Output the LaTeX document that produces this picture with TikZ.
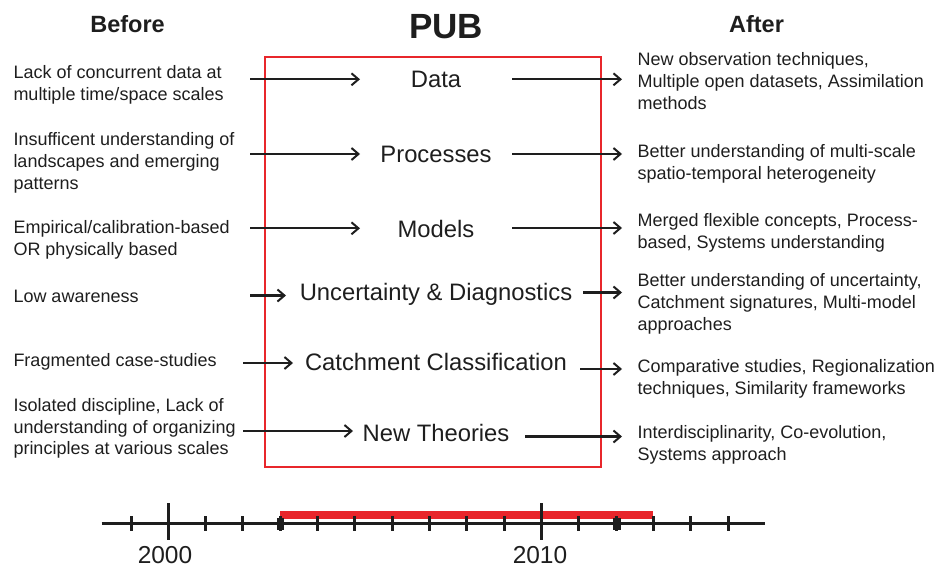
\documentclass[tikz,border=0pt]{standalone}
\usepackage{fontspec}
\setmainfont{Liberation Sans}
\usetikzlibrary{arrows.meta}
\definecolor{pubred}{HTML}{E8262B}
\definecolor{ink}{HTML}{1E1E1E}
\tikzset{
  side/.style={anchor=west, align=left, inner sep=0pt, text=ink, font=\fontsize{18}{21.7}\selectfont},
  mid/.style={anchor=center, inner sep=0pt, text=ink, font=\fontsize{23.8}{28}\selectfont},
  head/.style={anchor=base, inner sep=0pt, text=ink, font=\fontsize{23.5}{28}\selectfont\bfseries},
  year/.style={anchor=base, inner sep=0pt, text=ink, font=\fontsize{24.5}{29}\selectfont},
  flow/.style={draw=ink, line width=2.2pt, -{Straight Barb[length=7pt,width=12pt,line width=2pt]}},
  axis/.style={draw=ink, line width=3pt},
  minortick/.style={draw=ink, line width=3pt},
  majortick/.style={draw=ink, line width=3.4pt},
}
\begin{document}
\begin{tikzpicture}[x=1pt,y=-1pt]
\useasboundingbox (0,0) rectangle (942,568);
% headers
\node[head] (before) at (127.5,32) {Before};
\node[head, font=\fontsize{35}{40}\selectfont\bfseries] (pub) at (446,38) {PUB};
\node[head] (after) at (756.5,32) {After};
% PUB box
\draw[pubred, line width=2.3pt] (265,57) rectangle (601,467);
% left texts
\node[side] (b1) at (13.3,85) {Lack of concurrent data at\\multiple time/space scales};
\node[side] (b2) at (13.3,163) {Insufficent understanding of\\landscapes and emerging\\patterns};
\node[side] (b3) at (13.3,240) {Empirical/calibration-based\\OR physically based};
\node[side] (b4) at (13.3,296) {Low awareness};
\node[side] (b5) at (13.3,362) {Fragmented case-studies};
\node[side] (b6) at (13.3,428.5) {Isolated discipline, Lack of\\understanding of organizing\\principles at various scales};
% middle texts
\node[mid] (m1) at (436,79) {Data};
\node[mid] (m2) at (436,154) {Processes};
\node[mid] (m3) at (436,229) {Models};
\node[mid] (m4) at (436,294) {Uncertainty \& Diagnostics};
\node[mid] (m5) at (436,362) {Catchment Classification};
\node[mid] (m6) at (436,433) {New Theories};
% right texts
\node[side] (a1) at (637.5,81) {New observation techniques,\\Multiple open datasets, Assimilation\\methods};
\node[side] (a2) at (637.5,164) {Better understanding of multi-scale\\spatio-temporal heterogeneity};
\node[side] (a3) at (637.5,233) {Merged flexible concepts, Process-\\based, Systems understanding};
\node[side] (a4) at (637.5,304) {Better understanding of uncertainty,\\Catchment signatures, Multi-model\\approaches};
\node[side] (a5) at (637.5,378.5) {Comparative studies, Regionalization\\techniques, Similarity frameworks};
\node[side] (a6) at (637.5,445) {Interdisciplinarity, Co-evolution,\\Systems approach};
% arrow end points
\coordinate (ls1) at (250,79.3);  \coordinate (le1) at (360,79.3);
\coordinate (ls2) at (250,154);   \coordinate (le2) at (360,154);
\coordinate (ls3) at (250,228.3); \coordinate (le3) at (360,228.3);
\coordinate (ls4) at (250,295.5); \coordinate (le4) at (286,295.5);
\coordinate (ls5) at (243,363);   \coordinate (le5) at (293,363);
\coordinate (ls6) at (243,431);   \coordinate (le6) at (353,431);
\coordinate (rs1) at (512,79.3);  \coordinate (re1) at (622,79.3);
\coordinate (rs2) at (512,154);   \coordinate (re2) at (622,154);
\coordinate (rs3) at (512,228);   \coordinate (re3) at (622,228);
\coordinate (rs4) at (583,292.5); \coordinate (re4) at (622,292.5);
\coordinate (rs5) at (580,369);   \coordinate (re5) at (622,369);
\coordinate (rs6) at (525,436.5); \coordinate (re6) at (622,436.5);
\foreach \i in {1,...,6}{
  \draw[flow] (ls\i) -- (le\i);
  \draw[flow] (rs\i) -- (re\i);
}
% timeline
\fill[pubred] (280,511) rectangle (653,519);
\coordinate (tl0) at (101.5,523.5);
\coordinate (tl1) at (765,523.5);
\draw[axis] (tl0) -- (tl1);
\foreach \k in {0,2,3,4,5,6,7,8,9,10,12,13,14,15,16}{
  \draw[minortick] ({131+37.33*\k},516) -- ({131+37.33*\k},530.5);
}
\foreach \k in {1,11}{
  \draw[majortick] ({131+37.33*\k},503) -- ({131+37.33*\k},540);
}
\fill[ink] (276.5,517.5) rectangle (284,529.5);
\fill[ink] (613,517.5) rectangle (620.5,529.5);
\node[year] (y2000) at (165,563) {2000};
\node[year] (y2010) at (540,563) {2010};
\end{tikzpicture}
\end{document}
